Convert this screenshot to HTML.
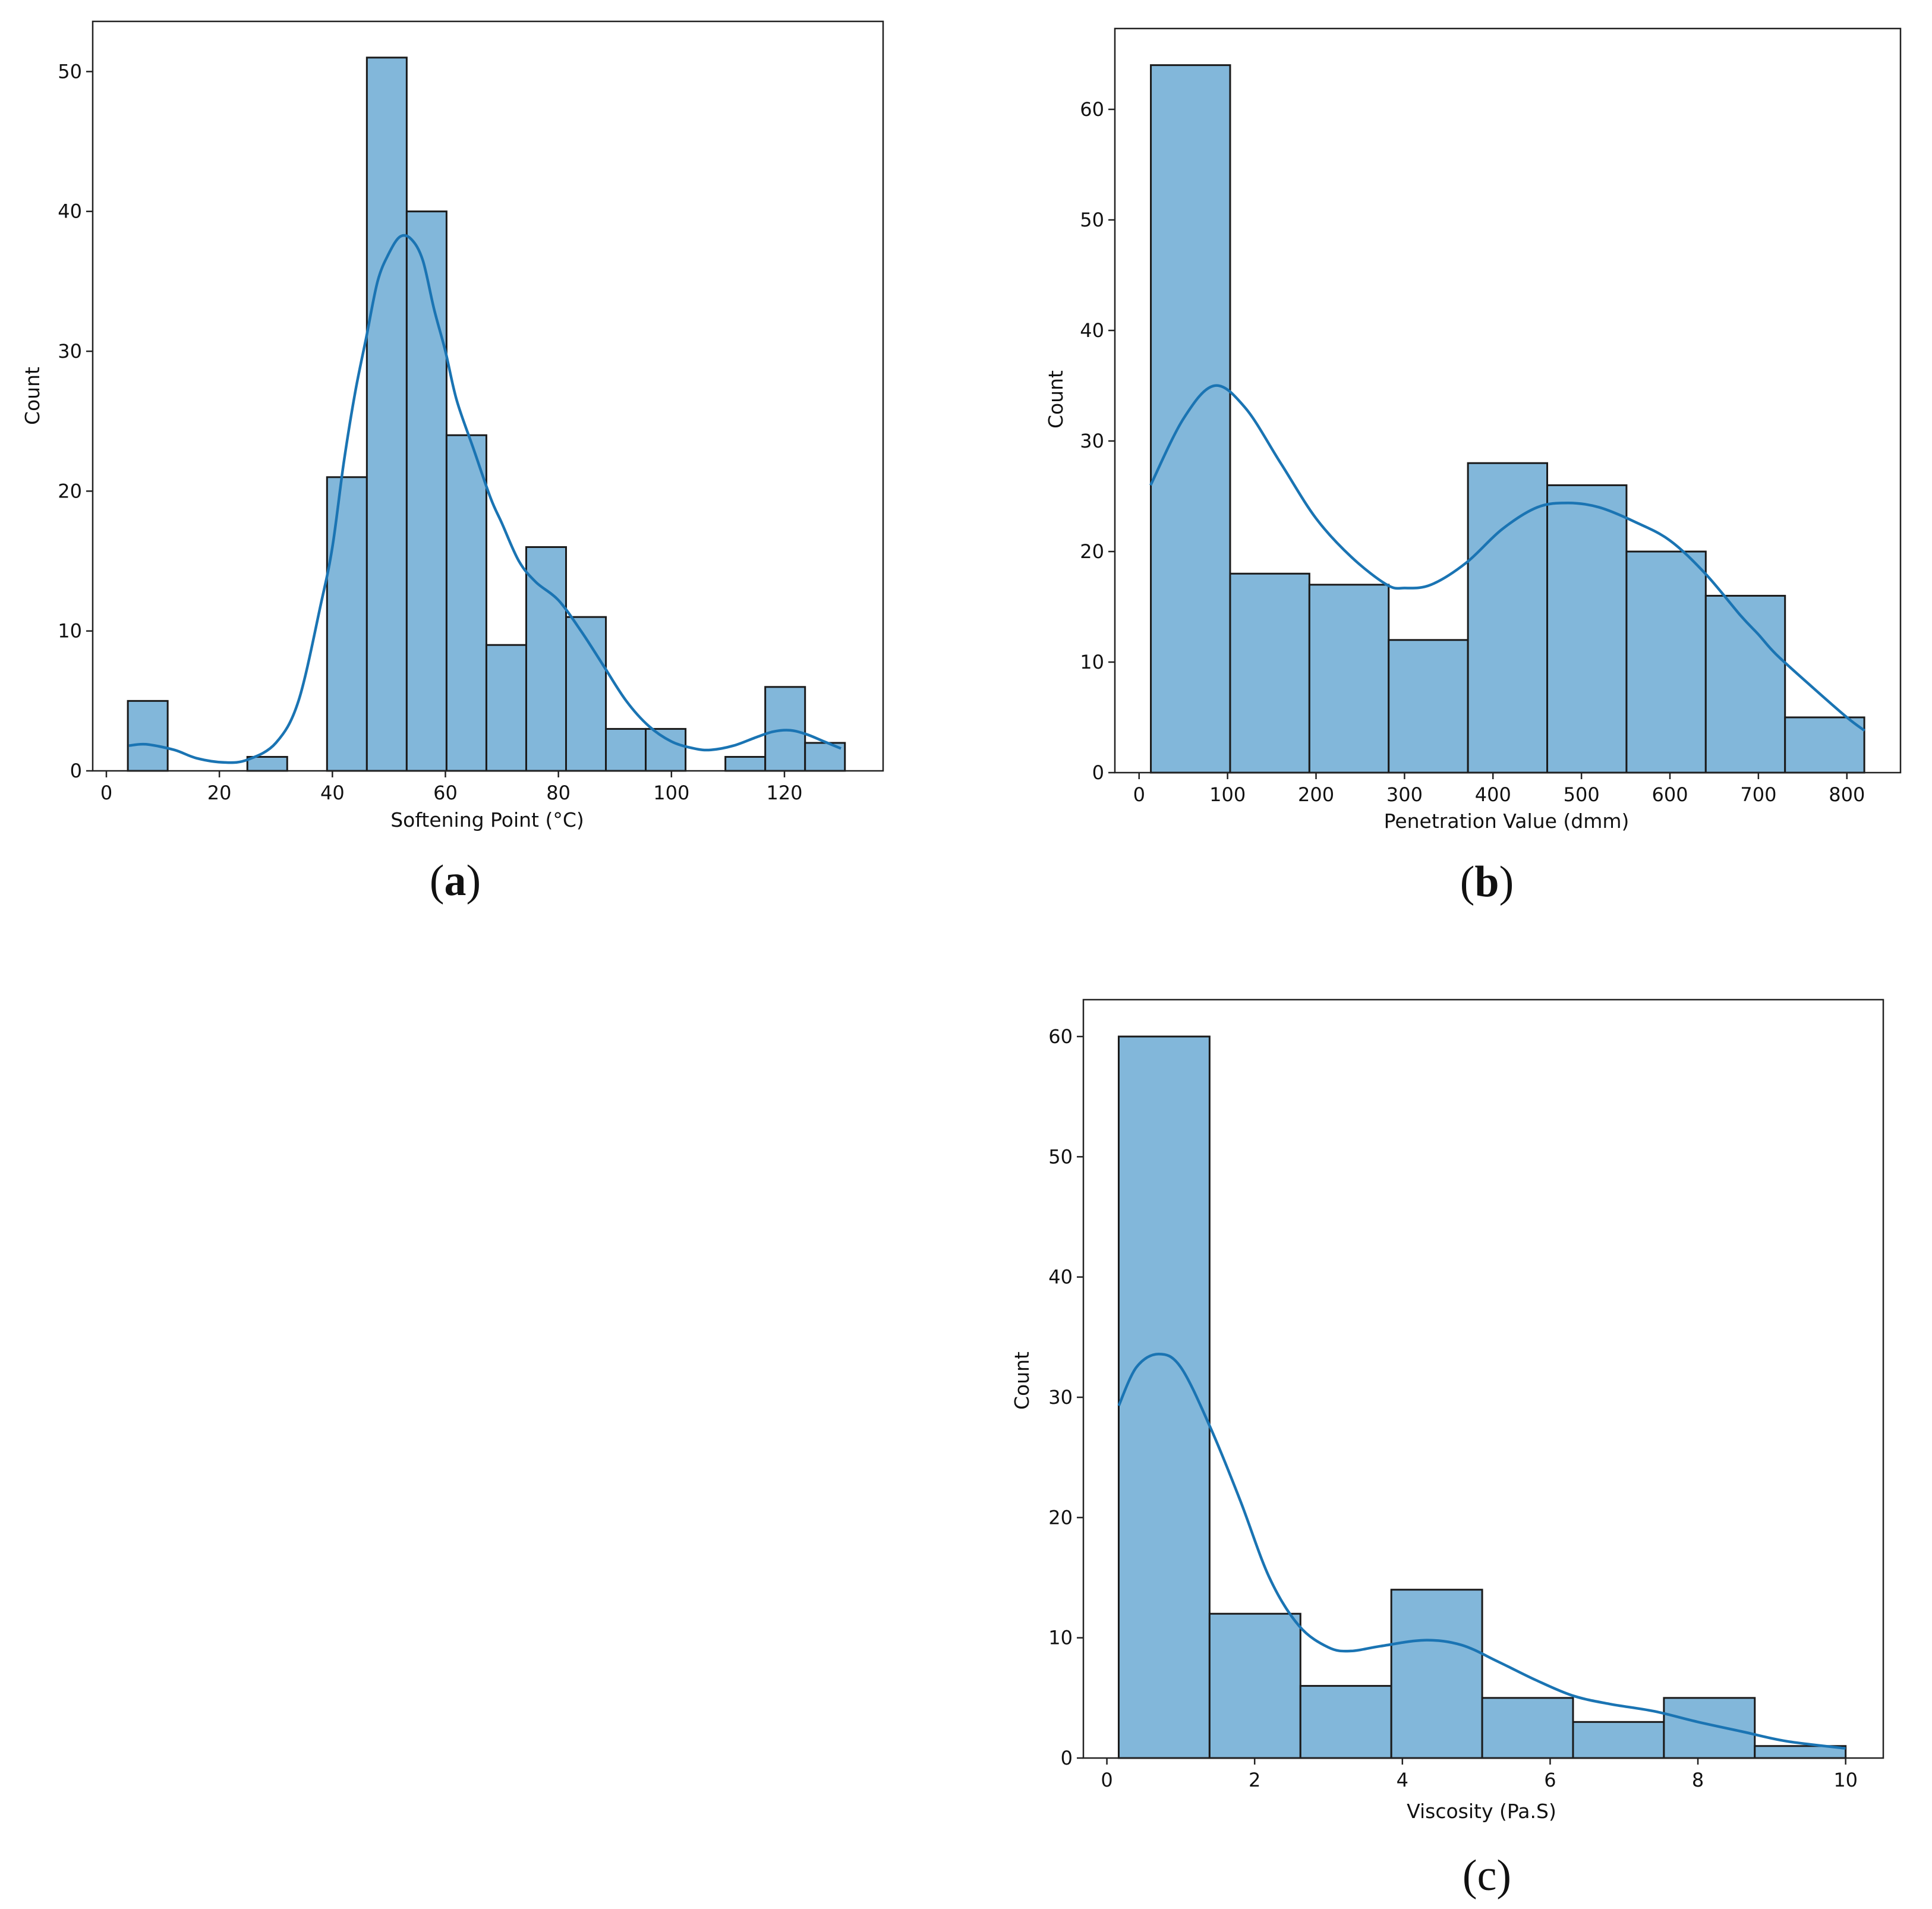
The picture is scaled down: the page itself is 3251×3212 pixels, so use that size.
<!DOCTYPE html>
<html><head><meta charset="utf-8"><style>
html,body{margin:0;padding:0;background:#fff}
svg{display:block}
text{font-family:"DejaVu Sans","Liberation Sans",sans-serif;fill:#111}
.cap{font-family:"Liberation Serif",serif;font-size:74px}
</style></head><body>
<svg id="fig" width="3251" height="3212" viewBox="0 0 3251 3212">
<rect x="0" y="0" width="3251" height="3212" fill="#fff"/>
<text class="cap" x="766" y="1506" text-anchor="middle">(<tspan font-weight="bold">a</tspan>)</text>
<text class="cap" x="2502" y="1508" text-anchor="middle">(<tspan font-weight="bold">b</tspan>)</text>
<text class="cap" x="2502" y="3180" text-anchor="middle">(c)</text>
</svg>
<script>
// ---- Chart A: Softening Point ----
const aEdgeStart = 3.8;
const aBinWidth = 7.05;
const aCounts = [5,0,0,1,0,21,51,40,24,9,16,11,3,3,0,1,6,2];
const aKdeX = [4,7,12,16,21,25,30,34,38,40,42,44,46,48,50,52,54,56,58,60,62,65,68,70,73,76,80,84,88,92,96,100,104,107,111,115,118,121,124,127,130];
const aKdeY = [1.8,1.9,1.5,0.9,0.6,0.8,2,5,12,16,22,27,31,35,37,38.2,38,36.5,33,30,26.5,23,19.5,17.7,15,13.5,12.2,10,7.5,5,3.2,2.1,1.6,1.5,1.8,2.4,2.8,2.9,2.6,2.1,1.6];
const aXTicks = [0,20,40,60,80,100,120];
const aYTicks = [0,10,20,30,40,50];
// ---- Chart B: Penetration Value ----
const bEdgeStart = 13.3;
const bBinWidth = 89.6;
const bCounts = [64,18,17,12,28,26,20,16,5];
const bKdeX = [13,50,85,120,160,200,240,280,300,330,370,410,450,485,520,560,600,640,680,700,720,760,800,820];
const bKdeY = [26,32,35,33,28,23,19.5,17,16.7,17,19,22,24,24.4,24,22.7,21,18,14.2,12.5,10.7,7.8,5,3.8];
const bXTicks = [0,100,200,300,400,500,600,700,800];
const bYTicks = [0,10,20,30,40,50,60];
// ---- Chart C: Viscosity ----
const cEdgeStart = 0.16;
const cBinWidth = 1.23;
const cCounts = [60,12,6,14,5,3,5,1];
const cKdeX = [0.16,0.4,0.7,1.0,1.4,1.8,2.2,2.6,3.0,3.3,3.7,4.3,4.8,5.3,5.8,6.3,6.8,7.4,8,8.6,9.2,10];
const cKdeY = [29.3,32.5,33.6,32.5,27.5,21.5,15,11,9.2,8.9,9.3,9.8,9.4,8,6.5,5.2,4.5,3.9,3,2.2,1.4,0.8];
const cXTicks = [0,2,4,6,8,10];
const cYTicks = [0,10,20,30,40,50,60];

const NS = "http://www.w3.org/2000/svg";
const svg = document.getElementById('fig');
function mk(tag, attrs, parent){
  const e = document.createElementNS(NS, tag);
  for (const k in attrs) e.setAttribute(k, attrs[k]);
  (parent||svg).appendChild(e);
  return e;
}
function smoothPath(pts){
  let d = 'M' + pts[0][0].toFixed(1) + ',' + pts[0][1].toFixed(1);
  for (let i=0;i<pts.length-1;i++){
    const p0 = pts[i-1]||pts[i], p1 = pts[i], p2 = pts[i+1], p3 = pts[i+2]||pts[i+1];
    const c1x = p1[0] + (p2[0]-p0[0])/6, c1y = p1[1] + (p2[1]-p0[1])/6;
    const c2x = p2[0] - (p3[0]-p1[0])/6, c2y = p2[1] - (p3[1]-p1[1])/6;
    d += 'C' + c1x.toFixed(1)+','+c1y.toFixed(1)+' '+c2x.toFixed(1)+','+c2y.toFixed(1)+' '+p2[0].toFixed(1)+','+p2[1].toFixed(1);
  }
  return d;
}
function drawChart(cfg){
  const g = mk('g', {});
  
  
  const L=cfg.L,T=cfg.T,R=cfg.R,B=cfg.B;
  const xs = v => cfg.x0px + v * cfg.xScale;
  const ys = v => B - v * cfg.yScale;
  cfg.counts.forEach((c,i)=>{
    if (c<=0) return;
    const x1 = xs(cfg.edge + i*cfg.bw), x2 = xs(cfg.edge + (i+1)*cfg.bw);
    const r = mk('rect', {x:x1, y:ys(c), width:x2-x1, height:ys(0)-ys(c), fill:'#82b7da', stroke:'#1a1a1a', 'stroke-width':3}, g);
    
    
  });
  const pts = cfg.kx.map((v,i)=>[xs(v), ys(cfg.ky[i])]);
  const p = mk('path', {d:smoothPath(pts), fill:'none', stroke:'#1a74b3', 'stroke-width':4.5, 'stroke-linejoin':'round'}, g);
  
  
  const f = mk('rect', {x:L, y:T, width:R-L, height:B-T, fill:'none', stroke:'#222', 'stroke-width':2.5}, g);
  
  
  cfg.xt.forEach(v=>{
    const x = xs(v);
    mk('line', {x1:x, x2:x, y1:B, y2:B+11, stroke:'#222', 'stroke-width':2.5}, g);
    const t = mk('text', {x:x, y:B+48, 'font-size':32, 'text-anchor':'middle'}, g);
    t.textContent = v;
    
    
  });
  cfg.yt.forEach(v=>{
    const y = ys(v);
    mk('line', {x1:L-11, x2:L, y1:y, y2:y, stroke:'#222', 'stroke-width':2.5}, g);
    const t = mk('text', {x:L-18, y:y+11, 'font-size':32, 'text-anchor':'end'}, g);
    t.textContent = v;
    
    
  });
  const xl = mk('text', {x:cfg.xlx, y:cfg.xly, 'font-size':33, 'text-anchor':'middle'}, g);
  xl.textContent = cfg.xlabel;
  
  
  const yl = mk('text', {x:0, y:0, 'font-size':33, 'text-anchor':'middle', transform:'translate('+cfg.ylx+','+cfg.yly+') rotate(-90)'}, g);
  yl.textContent = 'Count';
  
  
}
drawChart({name:'chart-softening-point', L:156,T:36,R:1486,B:1297,
  x0px:179, xScale:(1320-179)/120, yScale:(1297-120.4)/50,
  counts:aCounts, edge:aEdgeStart, bw:aBinWidth, kx:aKdeX, ky:aKdeY, xt:aXTicks, yt:aYTicks,
  xlabel:'Softening Point (°C)', xlx:820, xly:1391, ylx:66, yly:666});
drawChart({name:'chart-penetration-value', L:1876,T:48,R:3198,B:1300,
  x0px:1625+280*1.042, xScale:(1423-280)*1.042/800, yScale:(1300-184)/60,
  counts:bCounts, edge:bEdgeStart, bw:bBinWidth, kx:bKdeX, ky:bKdeY, xt:bXTicks, yt:bYTicks,
  xlabel:'Penetration Value (dmm)', xlx:2535, xly:1393, ylx:1788, yly:672});
drawChart({name:'chart-viscosity', L:1823,T:1682,R:3169,B:2958,
  x0px:1625+228*1.042, xScale:(1421-228)*1.042/10, yScale:(2958-1744)/60,
  counts:cCounts, edge:cEdgeStart, bw:cBinWidth, kx:cKdeX, ky:cKdeY, xt:cXTicks, yt:cYTicks,
  xlabel:'Viscosity (Pa.S)', xlx:2493, xly:3059, ylx:1731, yly:2323});
</script>
</body></html>
